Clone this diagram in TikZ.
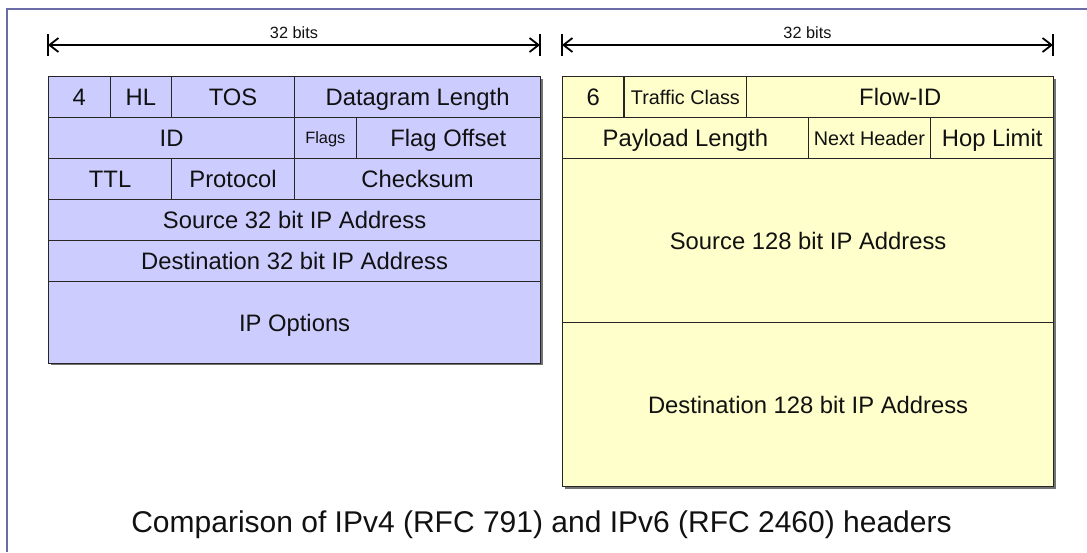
\documentclass[tikz,border=0pt]{standalone}
\usepackage{fontspec}
\setmainfont{Liberation Sans}
\usetikzlibrary{arrows.meta}
\definecolor{vfour}{HTML}{CCCCFF}
\definecolor{vsix}{HTML}{FFFFCC}
\definecolor{framec}{HTML}{6B6BA8}
\definecolor{inkc}{HTML}{111111}

\begin{document}
\begin{tikzpicture}[x=1pt, y=-1pt,
    cell/.style={draw=black!85, line width=1.2pt, anchor=north west, inner sep=0pt,
      minimum height=41pt, text=inkc, text height=17pt, text depth=0pt,
      font=\fontsize{23.8}{28}\selectfont},
    midtext/.style={text height=14.2pt, font=\fontsize{19.8}{24}\selectfont},
    smalltext/.style={text height=11.7pt, font=\fontsize{16.4}{20}\selectfont},
    vfourcell/.style={cell, fill=vfour},
    vsixcell/.style={cell, fill=vsix},
    bitarrow/.style={line width=1.8pt, {Straight Barb[length=9pt,width=14pt]}-{Straight Barb[length=9pt,width=14pt]}},
    tick/.style={line width=1.4pt},
    bitlabel/.style={anchor=base, text=inkc, font=\fontsize{16.3}{20}\selectfont}]
    \useasboundingbox (0,0) rectangle (1087,552);

    % Frame
    \draw[framec, line width=2pt] (7,552) -- (7,9) -- (1087,9);

    % Width markers
    \node[bitlabel] (lbits) at (294,38) {32 bits};
    \node[bitlabel] (rbits) at (807.5,38) {32 bits};
    \coordinate (lstart) at (48,45);
    \coordinate (lend) at (540,45);
    \coordinate (rstart) at (562,45);
    \coordinate (rend) at (1053,45);
    \draw[bitarrow] (lstart) -- (lend);
    \draw[bitarrow] (rstart) -- (rend);
    \draw[tick] (48,34) -- (48,56);
    \draw[tick] (540,34) -- (540,56);
    \draw[tick] (562,34) -- (562,56);
    \draw[tick] (1053,34) -- (1053,56);

    % Shadows
    \fill[black!55] (50.5,78.5) rectangle (542.5,364.5);
    \fill[black!55] (564.5,78.5) rectangle (1055.5,488.5);

    % IPv4 header
    \node[vfourcell, minimum width=61.5pt] (ver) at (48,76) {4};
    \node[vfourcell, minimum width=61.5pt] (hl) at (109.5,76) {HL};
    \node[vfourcell, minimum width=123pt] (tos) at (171,76) {TOS};
    \node[vfourcell, minimum width=246pt] (dlen) at (294,76) {Datagram Length};
    \node[vfourcell, minimum width=246pt] (id) at (48,117) {ID};
    \node[vfourcell, smalltext, minimum width=61.5pt] (flags) at (294,117) {Flags};
    \node[vfourcell, minimum width=184.5pt] (foff) at (355.5,117) {Flag Offset};
    \node[vfourcell, minimum width=123pt] (ttl) at (48,158) {TTL};
    \node[vfourcell, minimum width=123pt] (proto) at (171,158) {Protocol};
    \node[vfourcell, minimum width=246pt] (csum) at (294,158) {Checksum};
    \node[vfourcell, minimum width=492pt] (srcfour) at (48,199) {Source 32 bit IP Address};
    \node[vfourcell, minimum width=492pt] (dstfour) at (48,240) {Destination 32 bit IP Address};
    \node[vfourcell, minimum width=492pt, minimum height=82pt] (opts) at (48,281) {IP Options};

    % IPv6 header
    \node[vsixcell, minimum width=61.4pt] (six) at (562,76) {6};
    \node[vsixcell, midtext, minimum width=122.8pt] (tclass) at (623.4,76) {Traffic Class};
    \node[vsixcell, minimum width=306.8pt] (flow) at (746.2,76) {Flow-ID};
    \node[vsixcell, minimum width=245.5pt] (plen) at (562,117) {Payload Length};
    \node[vsixcell, midtext, minimum width=122.75pt] (nhdr) at (807.5,117) {Next Header};
    \node[vsixcell, minimum width=122.75pt] (hop) at (930.25,117) {Hop Limit};
    \node[vsixcell, minimum width=491pt, minimum height=164pt] (srcsix) at (562,158) {Source 128 bit IP Address};
    \node[vsixcell, minimum width=491pt, minimum height=164pt] (dstsix) at (562,322) {Destination 128 bit IP Address};

    % Caption
    \node[anchor=base, text=inkc, font=\fontsize{30}{36}\selectfont] (caption) at (541.5,532)
      {Comparison of IPv4 (RFC 791) and IPv6 (RFC 2460) headers};
\end{tikzpicture}
\end{document}
